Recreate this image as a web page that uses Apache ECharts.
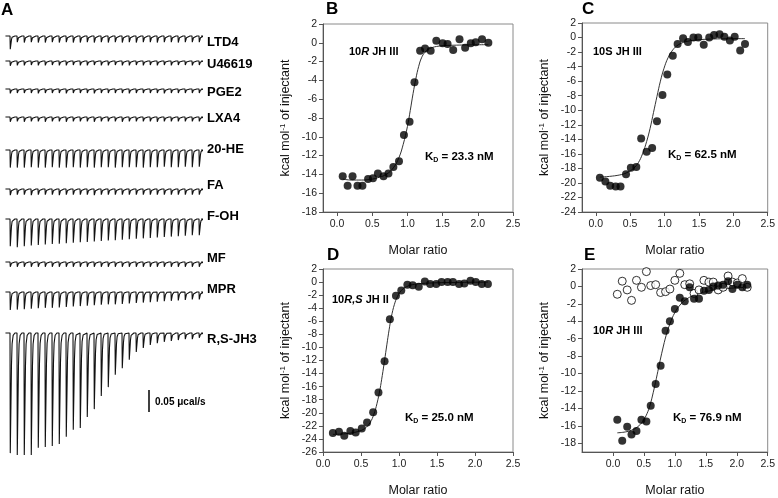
<!DOCTYPE html>
<html><head><meta charset="utf-8">
<script src="https://cdn.jsdelivr.net/npm/echarts@6/dist/echarts.min.js"></script>
<style>html,body{margin:0;padding:0;background:#fff}#c{width:778px;height:498px}</style>
</head><body><div id="c"></div>
<script>
// ---------------- Panel A: raw ITC thermograms (peak depth per injection, µcal/s) -------------
const traceNames = ['LTD4','U46619','PGE2','LXA4','20-HE','FA','F-OH','MF','MPR','R,S-JH3'];
const peaksLTD4  = [0.030,0.014,0.015,0.014,0.015,0.015,0.014,0.015,0.014,0.015,0.015,0.014,0.015,0.014,0.015,0.014,0.015,0.014,0.015,0.014,0.014,0.015,0.014,0.014,0.015,0.014,0.014,0.014];
const peaksU46619= [0.011,0.010,0.010,0.009,0.010,0.010,0.009,0.010,0.010,0.009,0.010,0.010,0.009,0.010,0.010,0.009,0.010,0.010,0.009,0.010,0.009,0.010,0.009,0.010,0.009,0.009,0.010,0.009];
const peaksPGE2  = [0.010,0.009,0.009,0.009,0.010,0.009,0.009,0.009,0.010,0.009,0.009,0.009,0.010,0.009,0.009,0.009,0.009,0.010,0.009,0.009,0.009,0.009,0.010,0.009,0.009,0.009,0.009,0.009];
const peaksLXA4  = [0.011,0.010,0.011,0.010,0.010,0.011,0.010,0.010,0.011,0.010,0.010,0.010,0.011,0.010,0.010,0.010,0.011,0.010,0.010,0.010,0.010,0.011,0.010,0.010,0.010,0.010,0.010,0.010];
const peaks20HE  = [0.040,0.040,0.040,0.039,0.040,0.040,0.039,0.040,0.040,0.039,0.040,0.039,0.040,0.039,0.039,0.040,0.039,0.039,0.039,0.040,0.039,0.039,0.038,0.039,0.039,0.038,0.039,0.038];
const peaksFA    = [0.014,0.013,0.013,0.014,0.013,0.013,0.013,0.014,0.013,0.013,0.013,0.013,0.014,0.013,0.013,0.013,0.013,0.013,0.013,0.013,0.013,0.013,0.013,0.013,0.013,0.013,0.013,0.013];
const peaksFOH   = [0.062,0.064,0.062,0.060,0.059,0.058,0.057,0.056,0.055,0.054,0.053,0.052,0.051,0.050,0.049,0.048,0.047,0.046,0.045,0.044,0.043,0.042,0.041,0.040,0.039,0.038,0.037,0.037];
const peaksMF    = [0.011,0.011,0.011,0.011,0.011,0.011,0.011,0.011,0.011,0.011,0.011,0.011,0.011,0.011,0.011,0.011,0.011,0.011,0.011,0.011,0.011,0.011,0.011,0.011,0.011,0.011,0.011,0.011];
const peaksMPR   = [0.041,0.040,0.039,0.038,0.037,0.036,0.036,0.035,0.034,0.033,0.032,0.031,0.030,0.029,0.028,0.028,0.027,0.026,0.025,0.024,0.023,0.022,0.021,0.020,0.019,0.018,0.017,0.017];
const peaksJH3   = [0.273,0.277,0.277,0.277,0.261,0.259,0.257,0.252,0.236,0.220,0.216,0.191,0.173,0.143,0.123,0.095,0.080,0.061,0.043,0.034,0.027,0.023,0.020,0.018,0.016,0.014,0.014,0.011];
const tracePeaks = [peaksLTD4,peaksU46619,peaksPGE2,peaksLXA4,peaks20HE,peaksFA,peaksFOH,peaksMF,peaksMPR,peaksJH3];
const peakShape = [[0,0],[0.04,-1],[0.13,-0.62],[0.21,-0.27],[0.3,-0.09],[0.45,-0.02],[0.7,0]]; // relative profile of one injection
const scaleBarValue = 0.05; // µcal/s

// ---------------- Panel B ----------------
const xB = [0.08,0.15,0.22,0.29,0.36,0.44,0.51,0.58,0.66,0.73,0.80,0.88,0.95,1.03,1.10,1.18,1.25,1.33,1.41,1.50,1.57,1.65,1.74,1.82,1.90,1.97,2.06,2.15];
const yB = [-14.2,-15.2,-14.2,-15.2,-15.2,-14.5,-14.4,-13.9,-14.2,-13.9,-13.2,-12.6,-9.8,-8.4,-4.2,-0.84,-0.6,-0.84,0.22,-0.05,-0.13,-0.77,0.37,-0.52,-0.05,0.05,0.37,0.0];
const fitXB = [0.08,0.2,0.35,0.5,0.6,0.7,0.8,0.88,0.94,1.0,1.04,1.08,1.12,1.16,1.2,1.25,1.32,1.45,1.7,2.15];
const fitYB = [-14.5,-14.6,-14.6,-14.5,-14.3,-14.0,-13.3,-12.2,-10.8,-8.9,-7.2,-5.4,-3.8,-2.5,-1.6,-1.0,-0.6,-0.35,-0.25,-0.2];

// ---------------- Panel C ----------------
const xC = [0.06,0.14,0.21,0.29,0.36,0.44,0.51,0.59,0.66,0.74,0.82,0.89,0.97,1.04,1.12,1.19,1.27,1.34,1.42,1.49,1.57,1.65,1.72,1.80,1.87,1.95,2.02,2.10,2.17];
const yC = [-19.3,-19.8,-20.4,-20.5,-20.5,-18.8,-17.9,-17.8,-13.9,-15.7,-15.2,-11.5,-7.9,-5.1,-2.5,-0.9,-0.1,-0.6,0.0,0.0,-1.0,0.0,0.35,0.45,0.1,-0.4,0.1,-1.8,-0.9];
const fitXC = [0.06,0.2,0.35,0.45,0.55,0.62,0.68,0.74,0.79,0.84,0.89,0.94,0.99,1.05,1.12,1.2,1.3,1.45,1.7,2.17];
const fitYC = [-19.2,-19.1,-18.9,-18.6,-18.0,-17.2,-16.0,-14.3,-12.5,-10.3,-8.1,-6.0,-4.3,-2.8,-1.7,-1.0,-0.6,-0.35,-0.2,-0.15];

// ---------------- Panel D ----------------
const xD = [0.13,0.21,0.28,0.36,0.43,0.51,0.58,0.66,0.73,0.81,0.88,0.96,1.03,1.11,1.18,1.26,1.34,1.41,1.49,1.56,1.64,1.71,1.79,1.86,1.94,2.01,2.09,2.17];
const yD = [-23.1,-22.9,-23.5,-22.8,-23.0,-22.4,-21.5,-19.9,-16.9,-12.1,-5.7,-2.1,-1.3,-0.4,-0.5,-0.7,0.1,-0.3,-0.3,0.0,0.0,0.0,-0.3,-0.2,0.2,0.0,-0.3,-0.3];
const fitXD = [0.13,0.3,0.45,0.55,0.62,0.67,0.71,0.75,0.78,0.81,0.84,0.87,0.9,0.94,0.98,1.03,1.1,1.2,1.4,1.8,2.17];
const fitYD = [-23.3,-23.2,-22.9,-22.4,-21.5,-20.2,-18.6,-16.4,-14.3,-12.0,-9.6,-7.3,-5.3,-3.4,-2.2,-1.3,-0.7,-0.35,-0.15,-0.05,0.0];

// ---------------- Panel E ----------------
const xE = [0.07,0.15,0.23,0.30,0.38,0.46,0.54,0.61,0.69,0.77,0.85,0.92,1.00,1.08,1.16,1.24,1.31,1.39,1.47,1.55,1.62,1.70,1.78,1.86,1.93,2.01,2.09,2.17];
const yEfilled = [-15.3,-17.7,-16.1,-17.0,-16.6,-15.3,-15.5,-13.7,-11.2,-9.1,-5.1,-4.0,-2.6,-1.3,-1.7,-0.1,-1.4,-1.4,-0.5,-0.4,0.0,0.1,0.2,0.6,-0.3,0.2,-0.1,0.2];
const yEopen   = [-0.9,0.6,-0.4,-1.6,0.7,-0.1,1.7,0.1,0.2,-0.7,-0.6,-0.3,0.7,1.5,0.2,0.3,-0.8,-0.4,0.7,0.5,0.5,-0.4,-0.1,1.2,0.5,0.4,0.9,-0.1];
const fitXE = [0.07,0.2,0.3,0.4,0.48,0.55,0.6,0.65,0.7,0.75,0.8,0.86,0.92,1.0,1.1,1.2,1.35,1.5,1.7,2.0,2.17];
const fitYE = [-16.8,-16.7,-16.5,-16.1,-15.5,-14.6,-13.6,-12.2,-10.6,-8.9,-7.3,-5.6,-4.3,-3.0,-2.0,-1.4,-0.9,-0.6,-0.35,-0.15,-0.1];

const molarTicks = [0,0.5,1,1.5,2,2.5];
const kdLabels = ['23.3','62.5','25.0','76.9'];

// ---------------- layout ----------------
const FONT = 'Liberation Sans, Arial, sans-serif';
const PX_PER_UCAL = 440;             // 22 px per 0.05 µcal/s
const A_YMAX = 0.02, A_YMIN = -0.30;
const traceBaseY = [36,61,89,117,150,189,219,262,292,333];
const traceLabelY = [42,64,92,118,149,185,216,258,289,339];
const INJ_PX = 7;

const grid = [], xAxis = [], yAxis = [], series = [], graphic = [];

function zip(xs, ys){ return xs.map((x,i)=>[x, ys[i]]); }

tracePeaks.forEach((pk, k) => {
  const gi = grid.length;
  grid.push({left: 3, top: traceBaseY[k] - A_YMAX*PX_PER_UCAL, width: 28.3*INJ_PX, height: (A_YMAX - A_YMIN)*PX_PER_UCAL});
  xAxis.push({gridIndex: gi, type: 'value', min: 0, max: 28.3, show: false});
  yAxis.push({gridIndex: gi, type: 'value', min: A_YMIN, max: A_YMAX, show: false});
  const pts = [[0.35, 0]];
  pk.forEach((d, i) => {
    const t0 = i + 1;
    peakShape.forEach(([dt, f]) => pts.push([t0 + dt, f * d]));
  });
  pts.push([28.3, 0]);
  series.push({type: 'line', xAxisIndex: gi, yAxisIndex: gi, data: pts, showSymbol: false, silent: true,
    clip: false, lineStyle: {color: '#111', width: 1.1}});
  graphic.push({type: 'text', x: 207, y: traceLabelY[k], style: {text: traceNames[k], fill: '#000',
    font: 'bold 13px ' + FONT, align: 'left', verticalAlign: 'middle'}});
});

// scale bar
{
  const gi = grid.length;
  grid.push({left: 148, top: 390, width: 4, height: scaleBarValue*PX_PER_UCAL});
  xAxis.push({gridIndex: gi, type: 'value', min: 0, max: 1, show: false});
  yAxis.push({gridIndex: gi, type: 'value', min: -scaleBarValue, max: 0, show: false});
  series.push({type: 'line', xAxisIndex: gi, yAxisIndex: gi, data: [[0.25, 0], [0.25, -scaleBarValue]], showSymbol: false,
    clip: false, silent: true, lineStyle: {color: '#000', width: 1.5}});
  graphic.push({type: 'text', x: 155, y: 402, style: {text: '0.05 μcal/s', fill: '#000', font: 'bold 10px ' + FONT,
    align: 'left', verticalAlign: 'middle'}});
}

const yName = '{a|kcal mol}{s|-1}{a| of injectant}';
function addPlot(box, xr, yr, yTicks, sets) {
  const gi = grid.length;
  grid.push({left: box[0], top: box[1], width: box[2], height: box[3], show: true, borderColor: '#8a8a8a', borderWidth: 1, backgroundColor: 'transparent'});
  xAxis.push({gridIndex: gi, type: 'value', min: xr[0], max: xr[1],
    axisLine: {show: true, onZero: false, lineStyle: {color: '#555', width: 1}},
    axisTick: {show: true, length: 4, customValues: molarTicks, lineStyle: {color: '#555'}},
    axisLabel: {customValues: molarTicks, formatter: v => v.toFixed(1), fontSize: 10.5, color: '#222', fontFamily: FONT, margin: 7},
    splitLine: {show: false},
    name: 'Molar ratio', nameLocation: 'middle', nameGap: 32,
    nameTextStyle: {fontSize: 12.5, color: '#111', fontFamily: FONT}});
  yAxis.push({gridIndex: gi, type: 'value', min: yr[0], max: yr[1],
    axisLine: {show: true, onZero: false, lineStyle: {color: '#555', width: 1}},
    axisTick: {show: true, length: 4, customValues: yTicks, lineStyle: {color: '#555'}},
    axisLabel: {customValues: yTicks, fontSize: 10.5, color: '#222', fontFamily: FONT, margin: 6},
    splitLine: {show: false},
    name: yName, nameLocation: 'middle', nameGap: 30,
    nameTextStyle: {fontFamily: FONT, rich: {
      a: {fontSize: 12.5, color: '#111', fontFamily: FONT, lineHeight: 14},
      s: {fontSize: 8, color: '#111', fontFamily: FONT, verticalAlign: 'top', lineHeight: 14}}}});
  sets.forEach(s => {
    if (s.kind === 'fit') {
      series.push({type: 'line', xAxisIndex: gi, yAxisIndex: gi, data: s.data, smooth: 0.4, showSymbol: false,
        silent: true, z: 2, lineStyle: {color: '#333', width: 1}});
    } else {
      series.push({type: 'scatter', xAxisIndex: gi, yAxisIndex: gi, data: s.data, symbolSize: 8, z: 3, silent: true,
        itemStyle: s.kind === 'open' ? {color: '#fff', borderColor: '#000', borderWidth: 1} : {color: '#000'}});
    }
  });
}
function evenTicks(lo, hi){ const t=[]; for (let v=lo; v<=hi; v+=2) t.push(v); return t; }

addPlot([323, 24, 190, 188], [-0.2, 2.5], [-18, 2], evenTicks(-18, 2),
  [{kind:'fit', data: zip(fitXB, fitYB)}, {kind:'filled', data: zip(xB, yB)}]);
addPlot([582, 23, 188, 189], [-0.2, 2.5], [-24, 2], evenTicks(-24, 2),
  [{kind:'fit', data: zip(fitXC, fitYC)}, {kind:'filled', data: zip(xC, yC)}]);
addPlot([323, 269, 190, 188], [0, 2.5], [-26, 2], evenTicks(-26, 2),
  [{kind:'fit', data: zip(fitXD, fitYD)}, {kind:'filled', data: zip(xD, yD)}]);
addPlot([582, 269, 187, 188], [-0.5, 2.5], [-19, 2], evenTicks(-18, 2),
  [{kind:'fit', data: zip(fitXE, fitYE)}, {kind:'open', data: zip(xE, yEopen)}, {kind:'filled', data: zip(xE, yEfilled)}]);

// annotations
const richB = {b: {font: 'bold 11px ' + FONT, fill: '#000'}, bi: {font: 'italic bold 11px ' + FONT, fill: '#000'},
               k: {font: 'bold 11.5px ' + FONT, fill: '#000'}, sub: {font: 'bold 7px ' + FONT, fill: '#000', verticalAlign: 'bottom', padding: [6,0,0,0]}};
function note(x, y, text){ graphic.push({type: 'text', x, y, style: {text, rich: richB, font: 'bold 11px ' + FONT, fill: '#000', align: 'left', verticalAlign: 'middle'}}); }
note(349, 52, '{b|10}{bi|R}{b| JH III}');
note(593, 52, '{b|10S JH III}');
note(332, 300, '{b|10}{bi|R,S}{b| JH II}');
note(593, 331, '{b|10}{bi|R}{b| JH III}');
note(425, 157, '{k|K}{sub|D}{k| = ' + kdLabels[0] + ' nM}');
note(668, 155, '{k|K}{sub|D}{k| = ' + kdLabels[1] + ' nM}');
note(405, 418, '{k|K}{sub|D}{k| = ' + kdLabels[2] + ' nM}');
note(673, 418, '{k|K}{sub|D}{k| = ' + kdLabels[3] + ' nM}');

[['A', 1, 10], ['B', 326, 9], ['C', 582, 9], ['D', 327, 255], ['E', 584, 255]].forEach(([t, x, y]) =>
  graphic.push({type: 'text', x, y, style: {text: t, fill: '#000', font: 'bold 17px ' + FONT, align: 'left', verticalAlign: 'middle'}}));

const chart = echarts.init(document.getElementById('c'), null, {renderer: 'canvas'});
chart.setOption({animation: false, backgroundColor: '#fff', grid, xAxis, yAxis, series, graphic});
</script></body></html>
